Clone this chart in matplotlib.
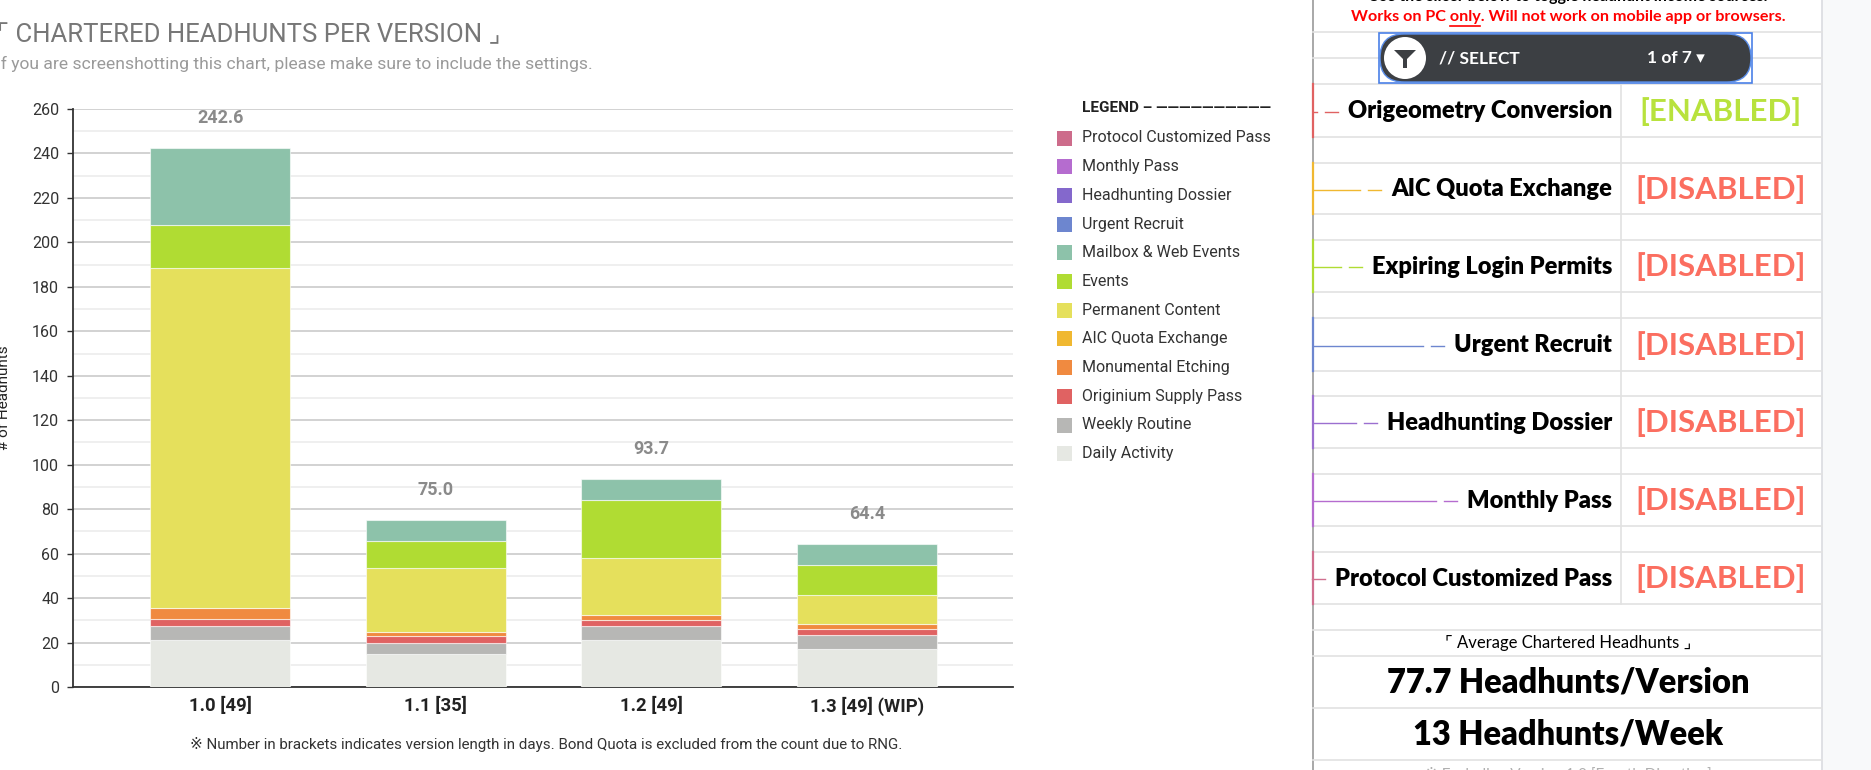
import numpy as np
import matplotlib.pyplot as plt
from matplotlib.patches import Rectangle, FancyBboxPatch, Circle, Polygon

W, H = 1871, 770

# ---- chart data ----
versions = ["1.0 [49]", "1.1 [35]", "1.2 [49]", "1.3 [49] (WIP)"]

daily = [21.0, 15.0, 21.0, 17.1]
weekly = [6.6, 4.9, 6.4, 6.3]
originium = [3.0, 2.9, 2.7, 2.6]
monumental = [5.0, 2.1, 2.1, 2.4]
aic = [0, 0, 0, 0]
permanent = [152.9, 28.5, 25.7, 13.2]
events = [19.2, 12.1, 26.4, 13.2]
mailbox = [34.9, 9.5, 9.4, 9.6]
urgent = [0, 0, 0, 0]
dossier = [0, 0, 0, 0]
monthly = [0, 0, 0, 0]
protocol = [0, 0, 0, 0]

# stack order, bottom to top
series = [
    ("Daily Activity", daily, "#e6e8e3"),
    ("Weekly Routine", weekly, "#b7b7b5"),
    ("Originium Supply Pass", originium, "#e06262"),
    ("Monumental Etching", monumental, "#f08a40"),
    ("AIC Quota Exchange", aic, "#f0b831"),
    ("Permanent Content", permanent, "#e5e05c"),
    ("Events", events, "#b0dc33"),
    ("Mailbox & Web Events", mailbox, "#8dc2aa"),
    ("Urgent Recruit", urgent, "#6d86cf"),
    ("Headhunting Dossier", dossier, "#8468cc"),
    ("Monthly Pass", monthly, "#b56ccf"),
    ("Protocol Customized Pass", protocol, "#cd6c8b"),
]

# ---- settings panel data ----
toggle_names = ["Origeometry Conversion", "AIC Quota Exchange", "Expiring Login Permits",
                "Urgent Recruit", "Headhunting Dossier", "Monthly Pass", "Protocol Customized Pass"]
toggle_state = ["[ENABLED]", "[DISABLED]", "[DISABLED]", "[DISABLED]",
                "[DISABLED]", "[DISABLED]", "[DISABLED]"]
toggle_colors = ["#e06262", "#f0b831", "#b0dc33", "#6d86cf", "#9b6fd0", "#b56ccf", "#d0708f"]
per_week = 13

totals = np.sum([s[1] for s in series], axis=0)
avg_version = np.mean(totals[1:])

ROBOTO = ["Roboto", "DejaVu Sans"]
PANEL = ["Lato", "DejaVu Sans"]

fig = plt.figure(figsize=(W / 100, H / 100), dpi=100)
fig.patch.set_facecolor("white")

# ---- main chart ----
ax = fig.add_axes([73 / W, 83 / H, 940 / W, 578 / H])
x = np.arange(len(versions))
bottom = np.zeros(len(versions))
for name, vals, col in series:
    vals = np.array(vals, dtype=float)
    lw = 0.8 if vals.sum() > 0 else 0
    ax.bar(x, vals, 0.65, bottom=bottom, color=col, edgecolor=(1, 1, 1, 0.6),
           linewidth=lw, zorder=3)
    bottom += vals

for i, t in enumerate(totals):
    ax.annotate(f"{t:.1f}", (i, t), xytext=(0, 21.6), textcoords="offset points",
                ha="center", va="center", fontsize=13, fontweight="bold",
                color="#8a8a8a", family=ROBOTO)

ax.set_xlim(-0.682, 3.677)
ax.set_ylim(0, 260)
ax.set_yticks(np.arange(0, 261, 20))
ax.set_yticks(np.arange(10, 260, 20), minor=True)
ax.grid(axis="y", which="major", color="#d2d2d2", linewidth=1.4, zorder=0)
ax.grid(axis="y", which="minor", color="#ebebeb", linewidth=1.1, zorder=0)
ax.set_xticks(x)
ax.set_xticklabels(versions, fontsize=13.3, fontweight="bold", color="#222222", family=ROBOTO)
ax.tick_params(axis="x", length=0, pad=7)
ax.tick_params(axis="y", which="major", length=4, width=1, color="#333333",
               labelsize=11.5, labelcolor="#333333", pad=6)
ax.tick_params(axis="y", which="minor", length=0)
for lab in ax.get_yticklabels():
    lab.set_family(ROBOTO)
for s in ["top", "right"]:
    ax.spines[s].set_visible(False)
for s in ["left", "bottom"]:
    ax.spines[s].set_color("#333333")
    ax.spines[s].set_linewidth(1.3)
ax.set_axisbelow(True)

# ---- overlay in pixel coordinates ----
ov = fig.add_axes([0, 0, 1, 1])
ov.set_xlim(0, W)
ov.set_ylim(H, 0)
ov.axis("off")
ov.patch.set_alpha(0)

ov.text(-3, 35, "\u231c CHARTERED HEADHUNTS PER VERSION \u231f", fontsize=18.5, color="#777777",
        family=ROBOTO, va="center", ha="left")
ov.text(-4, 64, "If you are screenshotting this chart, please make sure to include the settings.",
        fontsize=12.6, color="#9a9a9a", family=ROBOTO, va="center", ha="left")
ov.text(4, 398, "# of Headhunts", rotation=90, fontsize=11, color="#222222",
        family=ROBOTO, va="center", ha="center")
ov.text(546, 745, "\u203b Number in brackets indicates version length in days. "
        "Bond Quota is excluded from the count due to RNG.",
        fontsize=10.9, color="#333333", family=ROBOTO, va="center", ha="center")

# legend
ov.text(1082, 108, "LEGEND \u2013 \u2014\u2014\u2014\u2014\u2014\u2014\u2014\u2014\u2014\u2014",
        fontsize=11, fontweight="bold", color="#222222", family=ROBOTO, va="center")
for k, (name, vals, col) in enumerate(series[::-1]):
    yy = 138 + k * 28.7
    ov.add_patch(Rectangle((1057, yy - 7.5), 15, 15, facecolor=col, edgecolor="none"))
    ov.text(1082, yy, name, fontsize=11.5, color="#333333", family=ROBOTO, va="center")

# ---- settings panel ----
PL, PR, SEP = 1313, 1822, 1621
ov.add_patch(Rectangle((PR, 0), W - PR, H, facecolor="#f8f9fa", edgecolor="none"))
ov.plot([PR, PR], [0, H], color="#dadce0", lw=1.2)
ov.plot([PL, PL], [0, H], color="#a8a8a8", lw=1.4)
row_lines = [32, 58, 84, 137, 163, 214, 240, 292, 318, 371, 396, 448, 474, 526,
             552, 604, 630, 656, 708, 760]
for yy in row_lines:
    ov.plot([PL, PR], [yy, yy], color="#e2e2e2", lw=1.2)
ov.plot([SEP, SEP], [84, 604], color="#e2e2e2", lw=1.2)

ov.text(1568, -3, "Use the slicer below to toggle headhunt income sources.", fontsize=11.5,
        fontweight="bold", color="black", family=PANEL, ha="center", va="center")
red_txt = "Works on PC only. Will not work on mobile app or browsers."
RED_FS = 11.6
t_red = ov.text(1568, 17, red_txt, fontsize=RED_FS, fontweight="bold", color="#ff0000",
                family=PANEL, ha="center", va="center")

# slicer pill
ov.add_patch(Rectangle((1379, 33), 373, 50, facecolor="white", edgecolor="#4a80e8",
                       lw=1.2, zorder=5))
ov.add_patch(FancyBboxPatch((1380, 34), 371, 48, boxstyle="round,pad=0,rounding_size=24",
                            facecolor="#3c3f43", edgecolor="#5b8ee8", lw=1, zorder=6))
ov.add_patch(Circle((1405, 58), 21, facecolor="white", edgecolor="none", zorder=7))
ov.add_patch(Polygon([(1394, 50), (1416, 50), (1407, 59), (1407, 68), (1403, 68), (1403, 59)],
                     closed=True, facecolor="#3c3f43", edgecolor="none", zorder=8))
ov.text(1439, 58, "// SELECT", fontsize=12.5, fontweight="bold", color="white",
        family=PANEL, va="center", zorder=8)
ov.text(1705, 58, "1 of 7 \u25be", fontsize=12.5, fontweight="bold", color="white",
        family=PANEL, va="center", ha="right", zorder=8)

rows_top = [84, 163, 240, 318, 396, 474, 552]
rows_bot = [137, 214, 292, 371, 448, 526, 604]
name_texts = []
for k, name in enumerate(toggle_names):
    yc = (rows_top[k] + rows_bot[k]) / 2 + 1
    t = ov.text(1612, yc, name, fontsize=17, fontweight="heavy", color="black",
                family=PANEL, ha="right", va="center")
    name_texts.append(t)
    st = toggle_state[k]
    ov.text(1721, yc, st, fontsize=22.5, fontweight="bold",
            color="#b8e23d" if st == "[ENABLED]" else "#fb6e60",
            family=PANEL, ha="center", va="center")

ov.text(1568, 643, "\u231c Average Chartered Headhunts \u231f", fontsize=12, color="black",
        family=PANEL, ha="center", va="center")
ov.text(1568, 682, f"{avg_version:.1f} Headhunts/Version", fontsize=23.5, fontweight="heavy",
        color="black", family=PANEL, ha="center", va="center")
ov.text(1568, 734, f"{per_week} Headhunts/Week", fontsize=23.5, fontweight="heavy",
        color="black", family=PANEL, ha="center", va="center")
ov.text(1568, 775, "\u203b Excluding Version 1.0 [Fourth Direction]", fontsize=11,
        color="#b0b0b0", family=PANEL, ha="center", va="center")

# decorations that depend on text widths
fig.canvas.draw()
inv = ov.transData.inverted()
for k, t in enumerate(name_texts):
    bb = t.get_window_extent()
    left = inv.transform((bb.x0, bb.y0))[0]
    yc = (rows_top[k] + rows_bot[k]) / 2 + 1
    c = toggle_colors[k]
    ov.plot([PL, PL], [rows_top[k], rows_bot[k]], color=c, lw=1.6)
    if left - 31 > PL:
        ov.plot([PL, left - 31], [yc, yc], color=c, lw=1)
    ov.plot([left - 23, left - 10], [yc, yc], color=c, lw=1)

# underline "only"
full_w = t_red.get_window_extent().width
tmp1 = ov.text(0, 0, "Works on PC only", fontsize=RED_FS, fontweight="bold", family=PANEL)
tmp2 = ov.text(0, 0, "only", fontsize=RED_FS, fontweight="bold", family=PANEL)
fig.canvas.draw()
w1 = tmp1.get_window_extent().width
w2 = tmp2.get_window_extent().width
tmp1.remove()
tmp2.remove()
x0 = 1568 - full_w / 2
ov.plot([x0 + w1 - w2, x0 + w1], [25.5, 25.5], color="#ff0000", lw=1.2)

fig.savefig("out.png", dpi=100, facecolor="white")
